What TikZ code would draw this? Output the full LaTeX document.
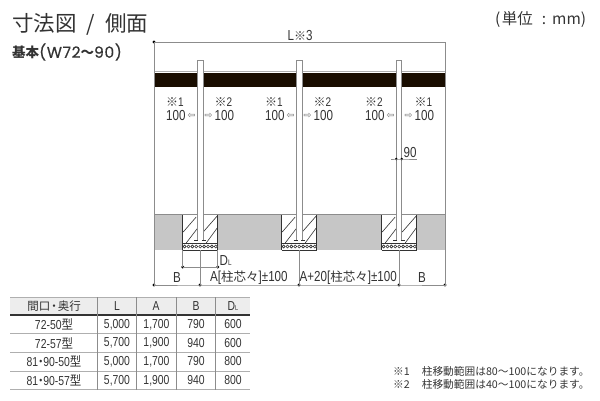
\documentclass[tikz,border=0pt]{standalone}
\usepackage{fontspec}
\setmainfont[FakeStretch=0.8]{Liberation Sans}
\newfontfamily\jp{Noto Sans CJK JP}
\newfontfamily\jpn[FakeStretch=0.88]{Noto Sans CJK JP}
\newfontfamily\djv{DejaVu Sans}
\newfontfamily\wide[LetterSpace=4,FakeBold=0.4]{Poppins}
\definecolor{ink}{HTML}{333333}
\definecolor{band}{HTML}{C6C6C6}
\definecolor{edge}{HTML}{8C8C8C}
\definecolor{headfill}{HTML}{EDEDED}
\tikzset{
  lab/.style={inner sep=0pt,text=ink,font=\fontsize{14.5}{14.5}\selectfont},
  marklab/.style={inner sep=0pt,text=ink,font=\fontsize{12.5}{12.5}\selectfont},
  cell/.style={inner sep=0pt,text=ink,font=\fontsize{13}{13}\selectfont,anchor=center},
  dim/.style={draw=edge,line width=.6pt},
  tick/.style={circle,fill=black,inner sep=0pt,minimum size=3.2pt},
  rowline/.style={draw=edge!70,line width=1pt},
  arr/.style={inner sep=0pt,text=edge!80!black,font=\djv\fontsize{9.5}{9.5}\selectfont},
  jplab/.style={inner sep=0pt,anchor=west,text=ink}
}
\newcommand{\kome}{\smash{\jp\fontsize{12}{12}\selectfont ※}}
\newcommand{\gata}{{\jpn 型}}
\newcommand{\midot}{{\jpn\kern-3.2pt・\kern-3.2pt}}
\begin{document}
\begin{tikzpicture}[x=1pt,y=-1pt]
\useasboundingbox (0,0) rectangle (600,400);
% ground band
\fill[band] (154,214) rectangle (445,250);
\draw[edge,line width=1pt] (154,214) -- (445,214);
% roof
\draw[edge!70,line width=.8pt] (154,71.5) -- (445,71.5);
\fill[black!90!orange] (154,73) rectangle (445,86.5);
% frame verticals and dimension lines
\node[tick] (tl) at (154,42) {};
\coordinate (tr) at (445,42);
\node[tick] (bl) at (154,285) {};
\node[tick] (b1) at (200,285) {};
\node[tick] (b2) at (299,285) {};
\node[tick] (b3) at (399,285) {};
\node[tick] (br) at (445,285) {};
\draw[dim] (tl.center) -- (tr) -- (br.center) -- (b3.center) -- (b2.center) -- (b1.center) -- (bl.center) -- cycle;
% foundations
\foreach \xo/\n in {182.7/1,281.7/2,381.7/3}{
  \begin{scope}[shift={(\xo,0)}]
    \fill[white] (0,215) rectangle (35,250);
    \draw[ink,line width=.6pt] (0,215) -- (0,250) (35,215) -- (35,250);
    \draw[ink,line width=.6pt] (.5,232) -- (13.5,217) (3.5,243) -- (15,228);
    \draw[ink,line width=.6pt] (20.5,232) -- (34.5,216) (23.5,243) -- (34.5,228);
    \draw[ink,line width=.7pt] (0,243) -- (35,243) (0,250) -- (35,250);
    \foreach \i in {0,...,8}{
      \draw[ink,line width=.6pt,fill=white] ({1.9+\i*3.9},246.5) circle (1.5);
    }
  \end{scope}
}
% posts
\foreach \xl in {197.3,296.7,396.2}{
  \draw[edge,fill=white,line width=.8pt] (\xl,241) -- (\xl,60) -- ({\xl+5.6},60) -- ({\xl+5.6},241);
  \draw[ink,line width=.7pt] ({\xl-3},240.5) -- ({\xl+1},240.5) ({\xl+4.5},240.5) -- ({\xl+8.5},240.5);
}
\draw[dim] (200,250) -- (b1.center) (299,250) -- (b2.center) (399,250) -- (b3.center);
% DL dimension
\node[tick] (d1) at (182.7,267) {};
\node[tick] (d2) at (217.7,267) {};
\draw[dim] (d1.center) -- (d2.center);
\coordinate (d1t) at (182.7,250);
\coordinate (d2t) at (217.7,250);
\draw[dim] (d1t) -- (d1.center) (d2t) -- (d2.center);
\node[lab,anchor=west] (dl) at (219.5,261) {D{\fontsize{8}{8}\selectfont L}};
% 90 dimension
\node[tick,minimum size=2.8pt] (n1) at (396.2,159) {};
\node[tick,minimum size=2.8pt] (n2) at (401.8,159) {};
\coordinate (n0) at (391,159);
\coordinate (n3) at (417,159);
\draw[dim] (n0) -- (n1.center) -- (n2.center) -- (n3);
\node[lab,anchor=west] (ninety) at (403.5,152.5) {90};
% title texts
\node[jplab,font=\jp\fontsize{21.5}{22}\selectfont] (title) at (12,24.5) {寸法図\hspace{10pt}/\hspace{10pt}側面};
\node[jplab,font=\jp\fontsize{13.5}{14}\selectfont\bfseries] (sub) at (12,52) {基本{\wide\fontsize{15.5}{15.5}\selectfont\mdseries (W72}〜{\wide\fontsize{15.5}{15.5}\selectfont\mdseries 90)}};
\node[jplab,font=\jp\fontsize{15.5}{16}\selectfont] (unit) at (495,19) {(\hspace{1.5pt}単位\hspace{9pt}:\hspace{6pt}mm)};
\node[lab,anchor=center] (ltop) at (300,35.5) {L\kome 3};
% offsets
\foreach \x/\k/\nm in {166/1/a,265/1/b,365/2/c}{
  \node[marklab,anchor=west] (k\nm) at (\x,102.5) {\kome\k};
  \node[lab,anchor=west] (v\nm) at (\x,115.5) {100};
  \node[arr,anchor=west] at (\x+21.5,115.5) {⇦};
}
\foreach \x/\k/\nm in {205/2/d,304/2/e,405/1/f}{
  \node[arr,anchor=west] at (\x-.5,115.5) {⇨};
  \node[lab,anchor=west] (v\nm) at (\x+9.5,115.5) {100};
  \node[marklab,anchor=west] (k\nm) at (\x+9.5,102.5) {\kome\k};
}
% bottom labels
\node[lab] (bb1) at (177,278) {B};
\node[lab] (bb2) at (422,278) {B};
\node[lab,anchor=west] (aa) at (210,278) {A[{\jp\fontsize{12.5}{13}\selectfont 柱芯々}]±100};
\node[lab,anchor=west] (ab) at (299.5,278) {A+20[{\jp\fontsize{12.5}{13}\selectfont 柱芯々}]±100};
% table
\fill[headfill] (10,297) rectangle (250,315);
\draw[rowline] (10,297) -- (250,297);
\draw[ink,line width=1.2pt] (10,315) -- (250,315);
\foreach \y in {333.7,352.3,371,389.7}{ \draw[rowline] (10,\y) -- (250,\y); }
\foreach \x in {97.3,136.7,176,215.7}{ \draw[edge,line width=.8pt] (\x,297) -- (\x,389.7); }
\node[cell,font=\jp\fontsize{11.5}{12}\selectfont] at (54,306) {間口\kern-2pt・\kern-2pt奥行};
\node[cell] at (117,306) {L};
\node[cell] at (156,306) {A};
\node[cell] at (196,306) {B};
\node[cell] at (233,306) {D{\fontsize{7}{7}\selectfont L}};
\foreach \y/\nam/\vl/\va/\vb/\vd in {
  324.5/72-50/5{,}000/1{,}700/790/600,
  343/72-57/5{,}700/1{,}900/940/600,
  361.5/81\midot 90-50/5{,}000/1{,}700/790/800,
  380.5/81\midot 90-57/5{,}700/1{,}900/940/800}{
  \node[cell] at (54,\y) {\nam\gata};
  \node[cell] at (117,\y) {\vl};
  \node[cell] at (156.5,\y) {\va};
  \node[cell] at (196,\y) {\vb};
  \node[cell] at (233,\y) {\vd};
}
% notes
\node[jplab,font=\jp\fontsize{10.7}{11}\selectfont] (n1t) at (393,371) {※1\hspace{12pt}柱移動範囲は80〜100になります。};
\node[jplab,font=\jp\fontsize{10.7}{11}\selectfont] (n2t) at (393,384) {※2\hspace{12pt}柱移動範囲は40〜100になります。};
\end{tikzpicture}
\end{document}
